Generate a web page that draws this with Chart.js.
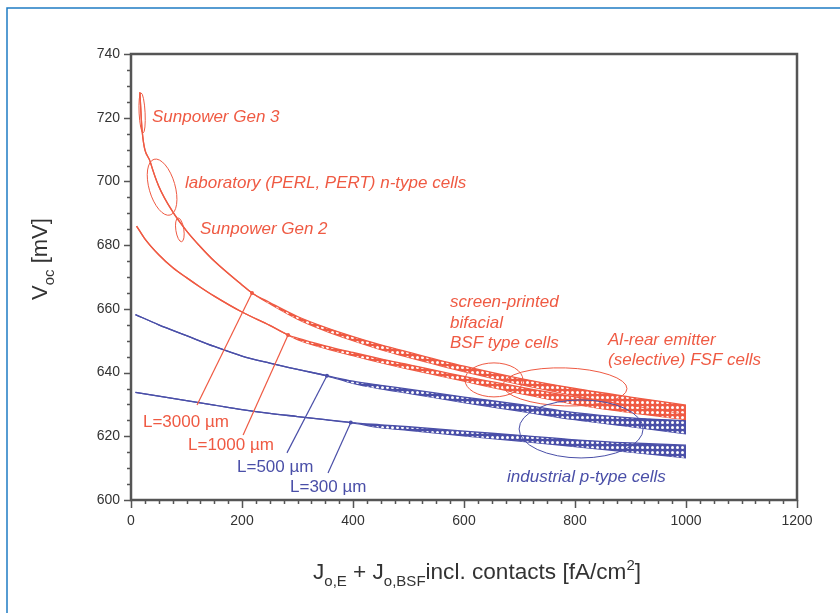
<!DOCTYPE html>
<html>
<head>
<meta charset="utf-8">
<script src="https://cdn.jsdelivr.net/npm/chart.js@4"></script>
<style>
  html, body { margin: 0; padding: 0; background: #fff; }
  canvas { display: block; }
</style>
</head>
<body>
<canvas id="voc" width="840" height="613"></canvas>
<script>
// tick labels
const xTicks = [0, 200, 400, 600, 800, 1000, 1200];
const yTicks = [600, 620, 640, 660, 680, 700, 720, 740];

// L = 3000 um (upper red band)
const red3000X  = [16, 20, 35, 50, 75, 100, 125, 150, 200, 218, 250, 300, 350, 400, 450, 500, 600, 700, 800, 900, 1000];
const red3000Hi = [728, 716, 706, 698.5, 690.5, 684.5, 679.5, 675, 667.5, 665, 662, 657.6, 654.2, 651.3, 648.7, 646.4, 642, 638.2, 635, 632.3, 629.8];
const red3000Lo = [728, 716, 706, 698.5, 690.5, 684.5, 679.5, 675, 667.5, 665, 661.6, 656.8, 653.1, 650, 647.2, 644.8, 640.3, 636.3, 632.8, 629.8, 627];

// L = 1000 um (lower red band)
const red1000X  = [10, 25, 50, 75, 100, 125, 150, 200, 250, 283, 300, 350, 400, 450, 500, 600, 700, 800, 900, 1000];
const red1000Hi = [686, 682, 677, 673, 669.8, 666.8, 664, 659, 654.8, 651.8, 650.8, 648.4, 646.3, 644.3, 642.5, 638.8, 635.5, 632.4, 629.8, 627.6];
const red1000Lo = [686, 682, 677, 673, 669.8, 666.8, 664, 659, 654.8, 651.8, 650.3, 647.6, 645.3, 643.1, 641.1, 637.3, 633.5, 630, 627.4, 625.2];

// L = 500 um (upper blue band)
const blue500X  = [8, 50, 100, 150, 200, 250, 300, 353, 400, 450, 500, 600, 700, 800, 900, 1000];
const blue500Hi = [658.2, 655, 651.6, 648.2, 645.2, 643, 641, 639, 637.3, 636, 634.8, 632.3, 630, 627.4, 625.8, 624.9];
const blue500Lo = [658.2, 655, 651.6, 648.2, 645.2, 643, 641, 639, 636.6, 634.9, 633.5, 630.6, 627.9, 625.2, 623, 620.8];

// L = 300 um (lower blue band)
const blue300X  = [8, 50, 100, 150, 200, 250, 300, 350, 396, 450, 500, 600, 700, 800, 900, 1000];
const blue300Hi = [633.8, 632.6, 631.2, 629.8, 628.4, 627.2, 626.2, 625.2, 624.3, 623.6, 623, 621.6, 620.3, 618.9, 617.9, 617.2];
const blue300Lo = [633.8, 632.6, 631.2, 629.8, 628.4, 627.2, 626.2, 625.2, 624.3, 622.7, 621.9, 620.1, 618.5, 616.8, 615, 613.2];

const RED = '#ef5a43';
const BLUE = '#4a4fa8';
const AXIS = '#555555';
const FONT = '"Liberation Sans", Arial, sans-serif';

function hatch(color) {
    const c = document.createElement('canvas');
    c.width = 5; c.height = 5;
    const g = c.getContext('2d');
    g.fillStyle = color;
    g.fillRect(0, 0, 5, 5);
    g.fillStyle = '#fff';
    g.beginPath();
    g.arc(2.5, 2.5, 1.5, 0, Math.PI * 2);
    g.fill();
    return g.createPattern(c, 'repeat');
}

function pts(xs, ys) {
    return xs.map((x, i) => ({ x: x, y: ys[i] }));
}

function band(xs, hi, lo, color) {
    const common = {
        borderColor: color,
        borderWidth: 1.3,
        pointRadius: 0,
        cubicInterpolationMode: 'monotone',
    };
    return [
        Object.assign({ data: pts(xs, hi), fill: '+1', backgroundColor: hatch(color) }, common),
        Object.assign({ data: pts(xs, lo), fill: false }, common),
    ];
}

// annotations (data coordinates)
const pointers = [
    { ds: 0, xs: red3000X, at: 218, to: [119, 629.8], text: 'L=3000 \u00b5m', textAt: [21.6, 624.5], color: RED },
    { ds: 2, xs: red1000X, at: 283, to: [202, 620.4], text: 'L=1000 \u00b5m', textAt: [102.7, 617.3], color: RED },
    { ds: 4, xs: blue500X, at: 353, to: [281, 614.8], text: 'L=500 \u00b5m', textAt: [191, 610.4], color: BLUE },
    { ds: 6, xs: blue300X, at: 396, to: [355, 608.5], text: 'L=300 \u00b5m', textAt: [286.5, 604.1], color: BLUE },
];

const notes = [
    { text: 'Sunpower Gen 3', at: [37.8, 720.2], color: RED },
    { text: 'laboratory (PERL, PERT) n-type cells', at: [97.3, 699.5], color: RED },
    { text: 'Sunpower Gen 2', at: [124.3, 685.1], color: RED },
    { text: 'screen-printed', at: [574.8, 662.2], color: RED },
    { text: 'bifacial', at: [574.8, 655.6], color: RED },
    { text: 'BSF type cells', at: [574.8, 649.3], color: RED },
    { text: 'Al-rear emitter', at: [859.5, 650.2], color: RED },
    { text: '(selective) FSF cells', at: [859.5, 643.9], color: RED },
    { text: 'industrial p-type cells', at: [677.5, 607.2], color: BLUE },
];

// ellipses: centre in data units, radii in px
const rings = [
    { at: [20, 721.5], rx: 3, ry: 20, rot: -0.05, color: RED },
    { at: [56, 698.2], rx: 13, ry: 29, rot: -0.28, color: RED },
    { at: [88, 684.8], rx: 4, ry: 12, rot: -0.15, color: RED },
    { at: [654, 637.7], rx: 29, ry: 17, rot: 0, color: RED },
    { at: [782, 635.5], rx: 62, ry: 19, rot: 0.03, color: RED },
    { at: [811, 622.3], rx: 62, ry: 29, rot: 0, color: BLUE },
];

function drawRich(ctx, parts, x, y, size) {
    let cx = x;
    parts.forEach(([t, mode]) => {
        const s = mode === 0 ? size : Math.round(size * 0.68);
        const dy = mode < 0 ? size * 0.32 : (mode > 0 ? -size * 0.42 : 0);
        ctx.font = s + 'px ' + FONT;
        ctx.fillText(t, cx, y + dy);
        cx += ctx.measureText(t).width;
    });
}

const decor = {
    id: 'decor',
    beforeDraw(chart) {
        const ctx = chart.ctx;
        ctx.save();
        ctx.fillStyle = '#fff';
        ctx.fillRect(0, 0, chart.width, chart.height);
        ctx.strokeStyle = '#1f7cc4';
        ctx.lineWidth = 1.5;
        ctx.beginPath();
        ctx.moveTo(7, chart.height);
        ctx.lineTo(7, 8);
        ctx.lineTo(chart.width, 8);
        ctx.stroke();
        ctx.restore();
    },
    afterDatasetsDraw(chart) {
        const ctx = chart.ctx;
        const sx = chart.scales.x, sy = chart.scales.y;
        ctx.save();
        ctx.lineWidth = 1;
        rings.forEach(r => {
            ctx.strokeStyle = r.color;
            ctx.beginPath();
            ctx.ellipse(sx.getPixelForValue(r.at[0]), sy.getPixelForValue(r.at[1]), r.rx, r.ry, r.rot, 0, Math.PI * 2);
            ctx.stroke();
        });
        ctx.textBaseline = 'middle';
        pointers.forEach(p => {
            const el = chart.getDatasetMeta(p.ds).data[p.xs.indexOf(p.at)];
            ctx.strokeStyle = p.color;
            ctx.fillStyle = p.color;
            ctx.lineWidth = 1.2;
            ctx.beginPath();
            ctx.moveTo(el.x, el.y);
            ctx.lineTo(sx.getPixelForValue(p.to[0]), sy.getPixelForValue(p.to[1]));
            ctx.stroke();
            ctx.beginPath();
            ctx.arc(el.x, el.y, 2, 0, Math.PI * 2);
            ctx.fill();
            ctx.font = '17px ' + FONT;
            ctx.fillText(p.text, sx.getPixelForValue(p.textAt[0]), sy.getPixelForValue(p.textAt[1]));
        });
        ctx.font = 'italic 17px ' + FONT;
        notes.forEach(n => {
            ctx.fillStyle = n.color;
            ctx.fillText(n.text, sx.getPixelForValue(n.at[0]), sy.getPixelForValue(n.at[1]));
        });
        ctx.restore();
    },
    afterDraw(chart) {
        const ctx = chart.ctx;
        const a = chart.chartArea;
        const sx = chart.scales.x, sy = chart.scales.y;
        ctx.save();
        ctx.strokeStyle = AXIS;
        ctx.lineWidth = 2.5;
        ctx.strokeRect(a.left, a.top, a.right - a.left, a.bottom - a.top);

        ctx.lineWidth = 1.5;
        ctx.beginPath();
        for (let v = 600; v <= 740; v += 5) {
            const y = Math.round(sy.getPixelForValue(v)) + 0.5;
            const len = v % 20 === 0 ? 7 : 4;
            ctx.moveTo(a.left, y);
            ctx.lineTo(a.left - len, y);
        }
        for (let v = 0; v <= 1200; v += 25) {
            const x = Math.round(sx.getPixelForValue(v)) + 0.5;
            const len = v % 200 === 0 ? 8 : 4;
            ctx.moveTo(x, a.bottom);
            ctx.lineTo(x, a.bottom + len);
        }
        ctx.stroke();

        ctx.fillStyle = '#333';
        ctx.font = '14px ' + FONT;
        ctx.textAlign = 'right';
        ctx.textBaseline = 'middle';
        yTicks.forEach(v => ctx.fillText(String(v), a.left - 11, sy.getPixelForValue(v)));
        ctx.textAlign = 'center';
        xTicks.forEach(v => ctx.fillText(String(v), sx.getPixelForValue(v), a.bottom + 21));

        ctx.textAlign = 'left';
        ctx.textBaseline = 'alphabetic';
        drawRich(ctx, [['J', 0], ['o,E', -1], [' + ', 0], ['J', 0], ['o,BSF', -1],
            ['incl. contacts [fA/cm', 0], ['2', 1], [']', 0]], 313, 579, 22.6);

        ctx.translate(47, 300);
        ctx.rotate(-Math.PI / 2);
        drawRich(ctx, [['V', 0], ['oc', -1], [' [mV]', 0]], 0, 0, 22);
        ctx.restore();
    }
};

new Chart(document.getElementById('voc'), {
    type: 'line',
    data: {
        datasets: [
            ...band(red3000X, red3000Hi, red3000Lo, RED),
            ...band(red1000X, red1000Hi, red1000Lo, RED),
            ...band(blue500X, blue500Hi, blue500Lo, BLUE),
            ...band(blue300X, blue300Hi, blue300Lo, BLUE),
        ],
    },
    options: {
        responsive: false,
        animation: false,
        devicePixelRatio: 1,
        layout: { padding: { left: 131, top: 54, right: 43, bottom: 113 } },
        plugins: { legend: { display: false }, tooltip: { enabled: false } },
        scales: {
            x: { type: 'linear', min: 0, max: 1200, display: false },
            y: { type: 'linear', min: 600, max: 740, display: false },
        },
    },
    plugins: [decor],
});
</script>
</body>
</html>
